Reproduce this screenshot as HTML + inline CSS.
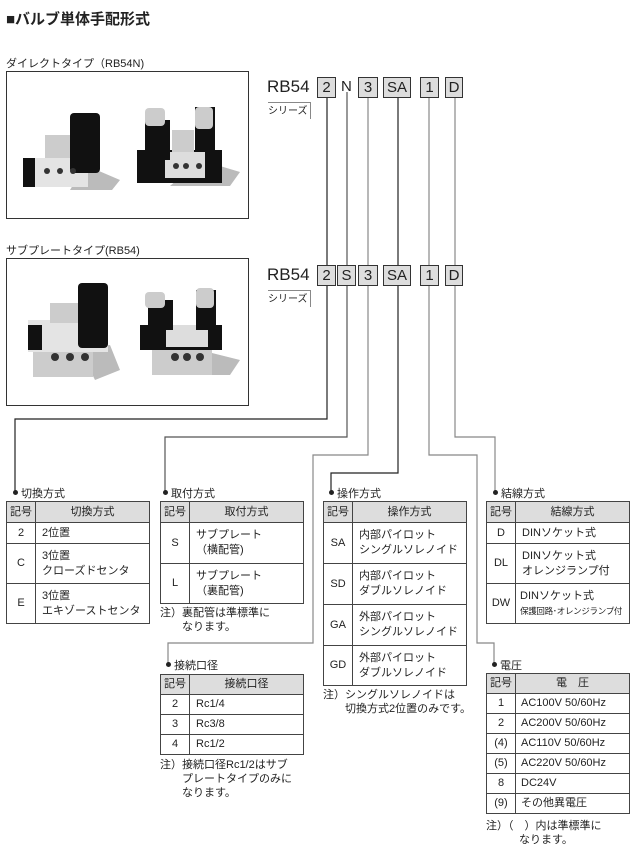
<!DOCTYPE html>
<html><head><meta charset="utf-8"><style>
*{margin:0;padding:0;box-sizing:border-box}
body{width:636px;height:855px;background:#fff;position:relative;overflow:hidden;font-family:"Liberation Sans","Noto Sans CJK JP",sans-serif;color:#222}
.a{position:absolute;white-space:nowrap}
.box{position:absolute;border:1px solid #333;background:#fff}
.code{position:absolute;border:1px solid #333;background:#ddd;font-size:15px;text-align:center;line-height:19px;height:21px}
table{position:absolute;border-collapse:collapse;font-size:11px;line-height:15px}
td{border:1px solid #444;padding:0}
td.k{text-align:center;width:29px}
td.v{padding-left:6px;white-space:nowrap}
tr.h td{background:#ddd;text-align:center;padding:0}
.t{font-size:11px}
.dot{position:absolute;width:5px;height:5px;border-radius:50%;background:#222}
.n{font-size:11px;line-height:14px}
</style></head><body>
<div class="a" style="left:6px;top:8px;font-size:15px;font-weight:bold">■バルブ単体手配形式</div>
<div class="a" style="left:6px;top:55px;font-size:11px">ダイレクトタイプ（RB54N)</div>
<div class="a" style="left:6px;top:242px;font-size:11px">サブプレートタイプ(RB54)</div>
<div class="box" style="left:6px;top:71px;width:243px;height:148px"></div>
<div class="box" style="left:6px;top:258px;width:243px;height:148px"></div>

<svg class="a" style="left:0;top:0" width="636" height="855">
<polygon points="85,165 120,180 112,190 70,190" fill="#bbb"/>
<rect x="45" y="135" width="27" height="24" fill="#ccc"/>
<rect x="23" y="158" width="65" height="29" fill="#e4e4e4"/>
<rect x="23" y="158" width="12" height="29" fill="#111"/>
<rect x="70" y="113" width="30" height="60" rx="4" fill="#111"/>
<circle cx="47" cy="171" r="3" fill="#333"/><circle cx="60" cy="171" r="3" fill="#333"/><circle cx="73" cy="171" r="3" fill="#333"/>
<polygon points="200,160 240,172 230,186 170,186" fill="#bbb"/>
<rect x="137" y="150" width="85" height="33" fill="#111"/>
<rect x="165" y="152" width="40" height="26" fill="#ddd"/>
<rect x="172" y="130" width="22" height="22" fill="#ccc"/>
<rect x="145" y="120" width="25" height="40" fill="#111"/>
<rect x="145" y="108" width="20" height="18" rx="4" fill="#ccc"/>
<rect x="195" y="107" width="20" height="45" fill="#111"/>
<rect x="195" y="107" width="18" height="22" rx="4" fill="#ccc"/>
<circle cx="176" cy="166" r="3" fill="#333"/><circle cx="186" cy="166" r="3" fill="#333"/><circle cx="199" cy="166" r="3" fill="#333"/>
<polygon points="80,350 110,345 120,370 95,380" fill="#bbb"/>
<rect x="33" y="345" width="60" height="32" fill="#ccc"/>
<rect x="28" y="320" width="80" height="32" fill="#e4e4e4"/>
<rect x="28" y="325" width="14" height="25" fill="#111"/>
<rect x="50" y="303" width="28" height="20" fill="#ccc"/>
<rect x="78" y="283" width="30" height="65" rx="4" fill="#111"/>
<circle cx="55" cy="357" r="4" fill="#333"/><circle cx="70" cy="357" r="4" fill="#333"/><circle cx="85" cy="357" r="4" fill="#333"/>
<polygon points="200,350 240,360 230,375 170,375" fill="#bbb"/>
<rect x="152" y="345" width="60" height="30" fill="#ccc"/>
<rect x="140" y="325" width="82" height="25" fill="#111"/>
<rect x="166" y="325" width="42" height="22" fill="#ddd"/>
<rect x="148" y="300" width="25" height="30" fill="#111"/>
<rect x="145" y="292" width="20" height="16" rx="4" fill="#ccc"/>
<rect x="196" y="290" width="20" height="40" fill="#111"/>
<rect x="196" y="288" width="18" height="20" rx="4" fill="#ccc"/>
<circle cx="175" cy="357" r="4" fill="#333"/><circle cx="187" cy="357" r="4" fill="#333"/><circle cx="200" cy="357" r="4" fill="#333"/>
<g fill="none" stroke-width="1.2">
<polyline points="327,98 327,265" stroke="#222"/>
<polyline points="347,92 347,265" stroke="#555"/>
<polyline points="368,98 368,265" stroke="#888"/>
<polyline points="398,98 398,265" stroke="#222"/>
<polyline points="429,98 429,265" stroke="#888"/>
<polyline points="455,98 455,265" stroke="#888"/>
<polyline points="327,286 327,419 15,419 15,492" stroke="#222"/>
<polyline points="347,286 347,437 165,437 165,492" stroke="#555"/>
<polyline points="368,286 368,455 313,455 313,643 168,643 168,664" stroke="#888"/>
<polyline points="398,286 398,473 331,473 331,492" stroke="#222"/>
<polyline points="429,286 429,455 477,455 477,643 494,643 494,664" stroke="#888"/>
<polyline points="455,286 455,437 495,437 495,492" stroke="#888"/>
</g>
</svg>

<div class="a" style="left:267px;top:77px;font-size:17px">RB54</div>
<div class="code" style="left:317px;top:77px;width:19px">2</div>
<div class="a" style="left:341px;top:77px;font-size:15px;line-height:19px">N</div>
<div class="code" style="left:358px;top:77px;width:20px">3</div>
<div class="code" style="left:383px;top:77px;width:28px">SA</div>
<div class="code" style="left:420px;top:77px;width:19px">1</div>
<div class="code" style="left:445px;top:77px;width:18px">D</div>
<div class="a" style="left:268px;top:102px;width:43px;height:17px;border-top:1px solid #888;border-right:1px solid #888;font-size:10px;line-height:17px">シリーズ</div>

<div class="a" style="left:267px;top:265px;font-size:17px">RB54</div>
<div class="code" style="left:317px;top:265px;width:19px">2</div>
<div class="code" style="left:337px;top:265px;width:19px">S</div>
<div class="code" style="left:358px;top:265px;width:20px">3</div>
<div class="code" style="left:383px;top:265px;width:28px">SA</div>
<div class="code" style="left:420px;top:265px;width:19px">1</div>
<div class="code" style="left:445px;top:265px;width:18px">D</div>
<div class="a" style="left:268px;top:290px;width:43px;height:17px;border-top:1px solid #888;border-right:1px solid #888;font-size:10px;line-height:17px">シリーズ</div>

<div class="dot" style="left:13px;top:490px"></div><div class="a t" style="left:21px;top:485px">切換方式</div>
<div class="dot" style="left:163px;top:490px"></div><div class="a t" style="left:171px;top:485px">取付方式</div>
<div class="dot" style="left:329px;top:490px"></div><div class="a t" style="left:337px;top:485px">操作方式</div>
<div class="dot" style="left:493px;top:490px"></div><div class="a t" style="left:501px;top:485px">結線方式</div>
<div class="dot" style="left:166px;top:662px"></div><div class="a t" style="left:174px;top:657px">接続口径</div>
<div class="dot" style="left:492px;top:662px"></div><div class="a t" style="left:500px;top:657px">電圧</div>

<table style="left:6px;top:501px;width:144px">
<tr class="h" style="height:21px"><td class="k">記号</td><td>切換方式</td></tr>
<tr style="height:21px"><td class="k">2</td><td class="v">2位置</td></tr>
<tr style="height:40px"><td class="k">C</td><td class="v">3位置<br>クローズドセンタ</td></tr>
<tr style="height:40px"><td class="k">E</td><td class="v">3位置<br>エキゾーストセンタ</td></tr>
</table>

<table style="left:160px;top:501px;width:144px">
<tr class="h" style="height:21px"><td class="k">記号</td><td>取付方式</td></tr>
<tr style="height:41px"><td class="k">S</td><td class="v">サブプレート<br>（横配管)</td></tr>
<tr style="height:40px"><td class="k">L</td><td class="v">サブプレート<br>（裏配管)</td></tr>
</table>
<div class="a n" style="left:160px;top:606px">注）裏配管は準標準に<br>　　なります。</div>

<table style="left:323px;top:501px;width:144px">
<tr class="h" style="height:21px"><td class="k">記号</td><td>操作方式</td></tr>
<tr style="height:41px"><td class="k">SA</td><td class="v">内部パイロット<br>シングルソレノイド</td></tr>
<tr style="height:41px"><td class="k">SD</td><td class="v">内部パイロット<br>ダブルソレノイド</td></tr>
<tr style="height:41px"><td class="k">GA</td><td class="v">外部パイロット<br>シングルソレノイド</td></tr>
<tr style="height:40px"><td class="k">GD</td><td class="v">外部パイロット<br>ダブルソレノイド</td></tr>
</table>
<div class="a n" style="left:323px;top:688px">注）シングルソレノイドは<br>　　切換方式2位置のみです。</div>

<table style="left:486px;top:501px;width:144px">
<tr class="h" style="height:21px"><td class="k">記号</td><td>結線方式</td></tr>
<tr style="height:21px"><td class="k">D</td><td class="v">DINソケット式</td></tr>
<tr style="height:40px"><td class="k">DL</td><td class="v">DINソケット式<br>オレンジランプ付</td></tr>
<tr style="height:40px"><td class="k">DW</td><td class="v" style="padding-left:4px">DINソケット式<br><span style="font-size:8.5px;letter-spacing:-0.3px">保護回路･オレンジランプ付</span></td></tr>
</table>

<table style="left:160px;top:674px;width:144px">
<tr class="h" style="height:20px"><td class="k">記号</td><td>接続口径</td></tr>
<tr style="height:20px"><td class="k">2</td><td class="v">Rc1/4</td></tr>
<tr style="height:20px"><td class="k">3</td><td class="v">Rc3/8</td></tr>
<tr style="height:20px"><td class="k">4</td><td class="v">Rc1/2</td></tr>
</table>
<div class="a n" style="left:160px;top:758px">注）接続口径Rc1/2はサブ<br>　　プレートタイプのみに<br>　　なります。</div>

<table style="left:486px;top:673px;width:144px">
<tr class="h" style="height:20px"><td class="k">記号</td><td>電　圧</td></tr>
<tr style="height:20px"><td class="k">1</td><td class="v" style="padding-left:5px">AC100V 50/60Hz</td></tr>
<tr style="height:20px"><td class="k">2</td><td class="v" style="padding-left:5px">AC200V 50/60Hz</td></tr>
<tr style="height:20px"><td class="k">(4)</td><td class="v" style="padding-left:5px">AC110V 50/60Hz</td></tr>
<tr style="height:20px"><td class="k">(5)</td><td class="v" style="padding-left:5px">AC220V 50/60Hz</td></tr>
<tr style="height:20px"><td class="k">8</td><td class="v" style="padding-left:5px">DC24V</td></tr>
<tr style="height:20px"><td class="k">(9)</td><td class="v" style="padding-left:5px">その他異電圧</td></tr>
</table>
<div class="a n" style="left:486px;top:819px">注）（　）内は準標準に<br>　　　なります。</div>
</body></html>
